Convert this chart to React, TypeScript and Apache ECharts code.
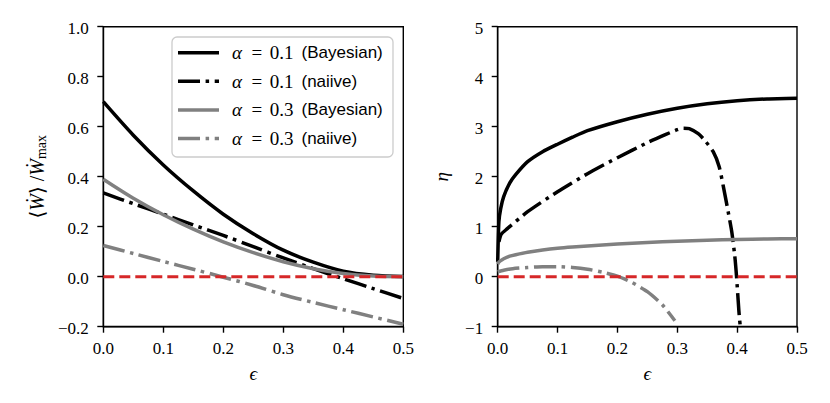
import { useEffect, useRef } from "react";
import * as echarts from "echarts";

// ---------- data ----------
// left panel: <W>/Wmax vs epsilon
const epsLeft = [0, 0.05, 0.1, 0.15, 0.2, 0.25, 0.3, 0.35, 0.4, 0.45, 0.5];
const w01Bayes = [0.7, 0.566, 0.447, 0.343, 0.25, 0.172, 0.106, 0.058, 0.022, 0.006, 0.001];
const w01Naive = [0.335, 0.292, 0.25, 0.207, 0.165, 0.12, 0.075, 0.032, -0.008, -0.048, -0.087];
const w03Bayes = [0.39, 0.314, 0.248, 0.19, 0.139, 0.096, 0.06, 0.032, 0.013, 0.003, 0.0];
const w03Naive = [0.125, 0.093, 0.061, 0.03, -0.002, -0.035, -0.072, -0.103, -0.132, -0.161, -0.19];

// right panel: eta vs epsilon
const epsBayes = [0, 0.002, 0.005, 0.01, 0.02, 0.03, 0.05, 0.075, 0.1, 0.125, 0.15, 0.2, 0.25, 0.3, 0.35, 0.4, 0.45, 0.5];
const eta01Bayes = [0.3, 1.1, 1.36, 1.6, 1.87, 2.04, 2.3, 2.5, 2.65, 2.79, 2.92, 3.1, 3.25, 3.37, 3.46, 3.52, 3.555, 3.57];
const eta03Bayes = [0.25, 0.29, 0.32, 0.36, 0.41, 0.44, 0.49, 0.535, 0.57, 0.595, 0.615, 0.655, 0.685, 0.71, 0.73, 0.745, 0.755, 0.76];

const eps01Naive = [0.002, 0.006, 0.015, 0.05, 0.1, 0.15, 0.2, 0.25, 0.28, 0.3, 0.31, 0.32, 0.335, 0.345, 0.36, 0.37, 0.377, 0.385, 0.391, 0.396, 0.399, 0.403, 0.406];
const eta01Naive = [0.7, 0.85, 0.95, 1.3, 1.7, 2.06, 2.38, 2.68, 2.84, 2.94, 2.97, 2.96, 2.86, 2.74, 2.5, 2.2, 1.8, 1.3, 0.9, 0.42, 0.0, -0.7, -1.1];

const eps03Naive = [0, 0.01, 0.025, 0.05, 0.075, 0.1, 0.125, 0.15, 0.175, 0.2, 0.225, 0.25, 0.275, 0.296];
const eta03Naive = [0.1, 0.13, 0.16, 0.185, 0.2, 0.2, 0.185, 0.15, 0.09, 0.01, -0.12, -0.3, -0.56, -0.88];

const zeroLineX = [0, 0.5];
const zeroLineY = [0, 0];

const seriesNames = ["α = 0.1 (Bayesian)", "α = 0.1 (naiive)", "α = 0.3 (Bayesian)", "α = 0.3 (naiive)"];
const legendAlpha = ["0.1", "0.1", "0.3", "0.3"];
const legendKind = ["(Bayesian)", "(naiive)", "(Bayesian)", "(naiive)"];

// ticks
const xTickValues = [0, 0.1, 0.2, 0.3, 0.4, 0.5];
const xTickLabels = ["0.0", "0.1", "0.2", "0.3", "0.4", "0.5"];
const leftYTickValues = [-0.2, 0, 0.2, 0.4, 0.6, 0.8, 1.0];
const leftYTickLabels = ["−0.2", "0.0", "0.2", "0.4", "0.6", "0.8", "1.0"];
const rightYTickValues = [-1, 0, 1, 2, 3, 4, 5];
const rightYTickLabels = ["−1", "0", "1", "2", "3", "4", "5"];

// ---------- styles ----------
const SERIF = "Liberation Serif, DejaVu Serif, serif";
const SANS = "Liberation Sans, Arial, sans-serif";
const GRAY = "#808080";
const RED = "#d62728";
const LW = 3.5;
const DASHDOT = [22, 5.6, 3.5, 5.6];
const DASHED = [11, 5];

const colors = ["#000000", "#000000", GRAY, GRAY];
const dashes: any[] = ["solid", DASHDOT, "solid", DASHDOT];

const pairs = (xs: number[], ys: number[]) => xs.map((x, i) => [x, ys[i]]);

function lineSeries(name: string, data: number[][], idx: number, k: number, smooth: number) {
  return {
    type: "line",
    name,
    xAxisIndex: idx,
    yAxisIndex: idx,
    data,
    showSymbol: false,
    symbol: "none",
    smooth,
    clip: true,
    lineStyle: { color: colors[k], width: LW, type: dashes[k], cap: "butt", join: "round" },
    z: 3,
  };
}

const axisCommon = {
  type: "value",
  splitLine: { show: false },
  axisLabel: { show: false },
  axisLine: { show: true, onZero: false, lineStyle: { color: "#000", width: 1.4 } },
  axisTick: { show: true, inside: false, length: 6, lineStyle: { color: "#000", width: 1.4 } },
};

function xAxis(idx: number) {
  return {
    ...axisCommon,
    gridIndex: idx,
    min: 0,
    max: 0.5,
    interval: 0.1,
    name: "ϵ",
    nameLocation: "middle",
    nameGap: 37,
    nameTextStyle: { color: "#000", fontFamily: SERIF, fontStyle: "italic", fontSize: 19 },
  };
}

const yMin = [-0.2, -1];
const tickFont = { fontFamily: SERIF, fontSize: 17, fill: "#000" };

export default function App() {
  const ref = useRef<HTMLDivElement>(null);

  useEffect(() => {
    if (!ref.current) return;
    const chart = echarts.init(ref.current, null, { renderer: "svg" });

    const legendGraphics: any[] = [
      {
        type: "rect",
        shape: { x: 172, y: 37, width: 221, height: 120, r: 5 },
        style: { fill: "rgba(255,255,255,0.85)", stroke: "#cccccc", lineWidth: 1.3 },
        z: 100,
      },
    ];
    seriesNames.forEach((_n, k) => {
      const cy = 52.7 + k * 28.6;
      legendGraphics.push({
        type: "line",
        shape: { x1: 178, y1: cy, x2: 219, y2: cy },
        style: {
          stroke: colors[k],
          lineWidth: LW,
          lineDash: dashes[k] === "solid" ? null : DASHDOT,
          lineCap: "butt",
        },
        z: 101,
      });
      legendGraphics.push({
        type: "text",
        x: 232,
        y: cy,
        style: {
          text: `{a|α}{b|=}{c|${legendAlpha[k]}}{d|${legendKind[k]}}`,
          verticalAlign: "middle",
          rich: {
            a: { fontFamily: SERIF, fontStyle: "italic", fontSize: 19, width: 19.5, fill: "#000" },
            b: { fontFamily: SERIF, fontSize: 19, width: 18.3, fill: "#000" },
            c: { fontFamily: SERIF, fontSize: 19, width: 31.7, fill: "#000" },
            d: { fontFamily: SANS, fontSize: 17, fill: "#000" },
          },
        },
        z: 101,
      });
    });

    chart.setOption({
      animation: false,
      backgroundColor: "#ffffff",
      textStyle: { fontFamily: SERIF, color: "#000" },
      grid: [
        { left: 103.3, top: 26.7, width: 300, height: 300, show: true, borderColor: "#000", borderWidth: 1.4, backgroundColor: "transparent" },
        { left: 497.7, top: 26.7, width: 299.3, height: 300, show: true, borderColor: "#000", borderWidth: 1.4, backgroundColor: "transparent" },
      ],
      xAxis: [xAxis(0), xAxis(1)],
      yAxis: [
        {
          ...axisCommon,
          gridIndex: 0,
          min: -0.2,
          max: 1.0,
          interval: 0.2,
          name: "{r|⟨}{i|Ẇ}{r|⟩ /}{i|Ẇ}{s|max}",
          nameLocation: "middle",
          nameRotate: 90,
          nameGap: 55,
          nameTextStyle: {
            color: "#000",
            rich: {
              r: { fontFamily: SERIF, fontSize: 20, color: "#000" },
              i: { fontFamily: SERIF, fontStyle: "italic", fontSize: 20, color: "#000" },
              s: { fontFamily: SERIF, fontSize: 14, color: "#000", padding: [8, 0, 0, 0] },
            },
          },
        },
        {
          ...axisCommon,
          gridIndex: 1,
          min: -1,
          max: 5,
          interval: 1,
          name: "η",
          nameLocation: "middle",
          nameRotate: 90,
          nameGap: 47,
          nameTextStyle: { color: "#000", fontFamily: SERIF, fontStyle: "italic", fontSize: 19 },
        },
      ],
      series: [
        lineSeries(seriesNames[0], pairs(epsLeft, w01Bayes), 0, 0, 0.3),
        lineSeries(seriesNames[1], pairs(epsLeft, w01Naive), 0, 1, 0.3),
        lineSeries(seriesNames[2], pairs(epsLeft, w03Bayes), 0, 2, 0.3),
        lineSeries(seriesNames[3], pairs(epsLeft, w03Naive), 0, 3, 0.3),
        lineSeries(seriesNames[0], pairs(epsBayes, eta01Bayes), 1, 0, 0.2),
        lineSeries(seriesNames[1], pairs(eps01Naive, eta01Naive), 1, 1, 0.2),
        lineSeries(seriesNames[2], pairs(epsBayes, eta03Bayes), 1, 2, 0.2),
        lineSeries(seriesNames[3], pairs(eps03Naive, eta03Naive), 1, 3, 0.2),
        ...[0, 1].map((idx) => ({
          type: "line",
          name: "zero",
          xAxisIndex: idx,
          yAxisIndex: idx,
          data: pairs(zeroLineX, zeroLineY),
          showSymbol: false,
          symbol: "none",
          lineStyle: { color: RED, width: 3, type: DASHED, cap: "butt" },
          z: 4,
        })),
      ],
    });

    // tick labels, positioned through the axes' own scales
    const tickGraphics: any[] = [];
    [0, 1].forEach((g) => {
      xTickValues.forEach((v, i) => {
        const p = chart.convertToPixel({ gridIndex: g } as any, [v, yMin[g]]) as number[];
        tickGraphics.push({
          type: "text",
          x: p[0],
          y: p[1] + 21.5,
          style: { ...tickFont, text: xTickLabels[i], align: "center", verticalAlign: "middle" },
          z: 50,
        });
      });
      const yVals = g === 0 ? leftYTickValues : rightYTickValues;
      const yLabs = g === 0 ? leftYTickLabels : rightYTickLabels;
      yVals.forEach((v, i) => {
        const p = chart.convertToPixel({ gridIndex: g } as any, [0, v]) as number[];
        tickGraphics.push({
          type: "text",
          x: p[0] - 14.5,
          y: p[1] + 2.2,
          style: { ...tickFont, text: yLabs[i], align: "right", verticalAlign: "middle" },
          z: 50,
        });
      });
    });

    chart.setOption({ graphic: [...legendGraphics, ...tickGraphics] });

    return () => chart.dispose();
  }, []);

  return (
    <div
      ref={ref}
      style={{ position: "fixed", left: 0, top: 0, width: 830, height: 403, background: "#fff" }}
    />
  );
}
